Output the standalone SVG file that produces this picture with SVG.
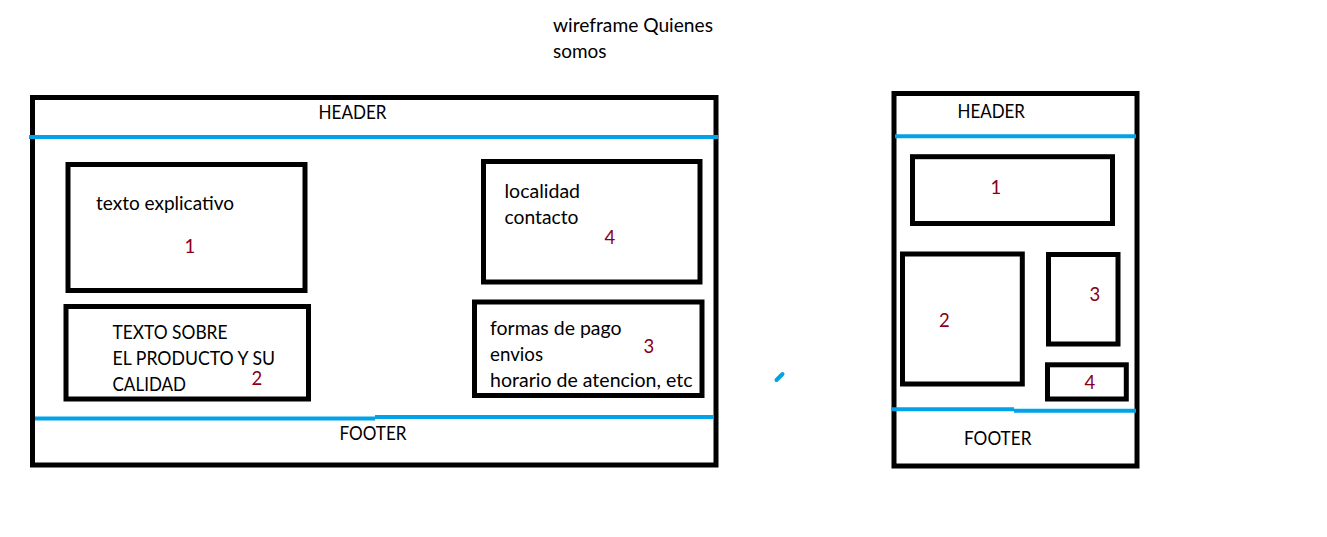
<svg xmlns="http://www.w3.org/2000/svg" width="1327" height="537" viewBox="0 0 1327 537">
<style>
.box{fill:none;stroke:#000;stroke-width:5}
.div{fill:none;stroke:#00a2e8;stroke-width:4;stroke-linecap:butt}
text{font-family:Lato,"Open Sans","Liberation Sans",sans-serif;font-size:18.5px;fill:#000}
.num{fill:#880015}
</style>
<rect width="1327" height="537" fill="#fff"/>
<g id="title">
<text x="553" y="32" textLength="160" lengthAdjust="spacingAndGlyphs">wireframe Quienes</text>
<text x="553" y="58" textLength="53.5" lengthAdjust="spacingAndGlyphs">somos</text>
</g>
<g id="desktop-frame">
<rect class="box" x="32.5" y="97.5" width="683.5" height="367.5"/>
<line class="div" x1="29" y1="137" x2="718" y2="137"/>
<line class="div" x1="35" y1="418.5" x2="375" y2="418.5"/>
<line class="div" x1="375" y1="417" x2="713" y2="417"/>
<text x="318.5" y="119" textLength="68" lengthAdjust="spacingAndGlyphs">HEADER</text>
<text x="339.5" y="440" textLength="67" lengthAdjust="spacingAndGlyphs">FOOTER</text>
</g>
<g id="desktop-box1">
<rect class="box" x="68" y="164.5" width="237" height="126"/>
<text x="96" y="210" textLength="138" lengthAdjust="spacingAndGlyphs">texto explicativo</text>
<text class="num" x="184.5" y="252.5">1</text>
</g>
<g id="desktop-box2">
<rect class="box" x="66" y="306.5" width="242.5" height="92.5"/>
<text x="112.5" y="339" textLength="115" lengthAdjust="spacingAndGlyphs">TEXTO SOBRE</text>
<text x="112.5" y="365" textLength="162.5" lengthAdjust="spacingAndGlyphs">EL PRODUCTO Y SU</text>
<text x="112.5" y="390.5" textLength="73.5" lengthAdjust="spacingAndGlyphs">CALIDAD</text>
<text class="num" x="251.5" y="385">2</text>
</g>
<g id="desktop-box4">
<rect class="box" x="483.5" y="161.5" width="216.5" height="120.5"/>
<text x="504.5" y="198" textLength="75.5" lengthAdjust="spacingAndGlyphs">localidad</text>
<text x="504.5" y="223.5" textLength="74" lengthAdjust="spacingAndGlyphs">contacto</text>
<text class="num" x="604.5" y="244">4</text>
</g>
<g id="desktop-box3">
<rect class="box" x="474.5" y="302" width="227.5" height="93.5"/>
<text x="490" y="334.5" textLength="131.5" lengthAdjust="spacingAndGlyphs">formas de pago</text>
<text x="490" y="361" textLength="53" lengthAdjust="spacingAndGlyphs">envios</text>
<text x="490" y="387" textLength="202.5" lengthAdjust="spacingAndGlyphs">horario de atencion, etc</text>
<text class="num" x="643.5" y="352.5">3</text>
</g>
<g id="mobile-frame">
<rect class="box" x="894" y="93.5" width="243" height="372.5"/>
<line class="div" x1="895" y1="136.3" x2="1136" y2="136.3"/>
<line class="div" x1="892" y1="409.3" x2="1014" y2="409.3"/>
<line class="div" x1="1014" y1="410.7" x2="1136" y2="410.7"/>
<text x="957.5" y="117.5" textLength="67.5" lengthAdjust="spacingAndGlyphs">HEADER</text>
<text x="964" y="444.5" textLength="67.5" lengthAdjust="spacingAndGlyphs">FOOTER</text>
</g>
<g id="mobile-box1">
<rect class="box" x="912.5" y="156.7" width="200" height="66.8"/>
<text class="num" x="990.5" y="193.5">1</text>
</g>
<g id="mobile-box2">
<rect class="box" x="902.5" y="254" width="119.8" height="130"/>
<text class="num" x="939" y="327">2</text>
</g>
<g id="mobile-box3">
<rect class="box" x="1048.5" y="254.5" width="69.5" height="89.5"/>
<text class="num" x="1089.5" y="301">3</text>
</g>
<g id="mobile-box4">
<rect class="box" x="1047.5" y="364.8" width="78.8" height="34.2"/>
<text class="num" x="1084.5" y="388.5">4</text>
</g>
<g id="connectors"></g>
<line x1="776.5" y1="380" x2="782.5" y2="374" stroke="#00a2e8" stroke-width="4" stroke-linecap="round"/>
</svg>
